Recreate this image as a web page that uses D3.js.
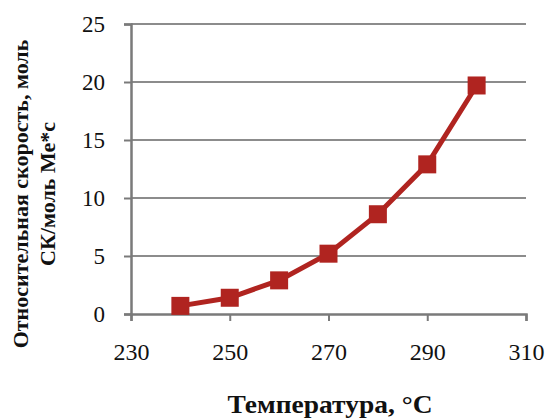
<!DOCTYPE html>
<html>
<head>
<meta charset="utf-8">
<script src="https://cdn.jsdelivr.net/npm/d3@7"></script>
<style>
  body { margin: 0; background: #fff; }
  text { font-family: "Liberation Serif", "Times New Roman", serif; fill: #111; }
</style>
</head>
<body>
<div id="chart"></div>
<script>
// temperature (°C) vs relative rate
var temps = [240, 250, 260, 270, 280, 290, 300];
var rates = [0.7, 1.4, 2.9, 5.2, 8.6, 12.9, 19.7];
var xTicks = [230, 250, 270, 290, 310];
var yTicks = [0, 5, 10, 15, 20, 25];
var xTitle = "Температура, °С";
var yTitle = ["Относительная скорость, моль", "СК/моль Ме*с"];

var margin = {top: 24, right: 21, bottom: 105, left: 131},
    width = 547 - margin.left - margin.right,
    height = 419 - margin.top - margin.bottom;

var svg = d3.select("#chart").append("svg")
    .attr("width", 547)
    .attr("height", 419);

var g = svg.append("g")
    .attr("transform", "translate(" + margin.left + "," + margin.top + ")");

var x = d3.scaleLinear().domain([230, 310]).range([0, width]);
var y = d3.scaleLinear().domain([0, 25]).range([height, 0]);

// horizontal gridlines
g.selectAll(".grid")
    .data(yTicks.slice(1))
  .enter().append("line")
    .attr("class", "grid")
    .attr("x1", 0)
    .attr("x2", width)
    .attr("y1", function(d) { return y(d); })
    .attr("y2", function(d) { return y(d); })
    .style("stroke", "#8c8c8c")
    .style("stroke-width", 2);

var xAxis = g.append("g")
    .attr("transform", "translate(0," + height + ")")
    .call(d3.axisBottom(x).tickValues(xTicks).tickSize(7).tickPadding(22).tickFormat(d3.format("d")));

var yAxis = g.append("g")
    .call(d3.axisLeft(y).tickValues(yTicks).tickSize(7).tickPadding(19).tickFormat(d3.format("d")));

[xAxis, yAxis].forEach(function(ax) {
  ax.select(".domain").style("stroke", "#7a7a7a").style("stroke-width", 2.5);
  ax.selectAll(".tick line").style("stroke", "#7a7a7a").style("stroke-width", 2);
  ax.selectAll(".tick text").style("fill", "#111");
});
xAxis.selectAll(".tick text").style("font-size", "24px");
yAxis.selectAll(".tick text").style("font-size", "23px").attr("dy", "0.34em");

var line = d3.line()
    .x(function(d, i) { return x(temps[i]); })
    .y(function(d) { return y(d); });

g.append("path")
    .datum(rates)
    .attr("d", line)
    .style("fill", "none")
    .style("stroke", "#b02420")
    .style("stroke-width", 5);

var sz = 18;
g.selectAll(".dot")
    .data(rates)
  .enter().append("rect")
    .attr("class", "dot")
    .attr("x", function(d, i) { return x(temps[i]) - sz / 2; })
    .attr("y", function(d) { return y(d) - sz / 2; })
    .attr("width", sz)
    .attr("height", sz)
    .style("fill", "#b02420");

svg.append("text")
    .attr("x", 330)
    .attr("y", 413)
    .attr("text-anchor", "middle")
    .attr("textLength", 205)
    .attr("lengthAdjust", "spacingAndGlyphs")
    .style("font-size", "25px")
    .style("font-weight", "bold")
    .text(xTitle);

svg.append("text")
    .attr("transform", "translate(0,194) rotate(-90)")
    .attr("text-anchor", "middle")
    .style("font-size", "22px")
    .style("font-weight", "bold")
  .selectAll("tspan")
    .data(yTitle)
  .enter().append("tspan")
    .attr("x", 0)
    .attr("y", function(d, i) { return 28 + i * 27; })
    .text(function(d) { return d; });
</script>
</body>
</html>
